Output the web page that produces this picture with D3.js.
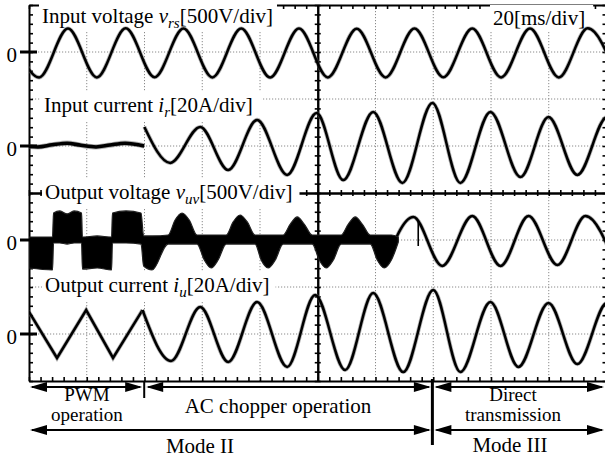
<!DOCTYPE html>
<html>
<head>
<meta charset="utf-8">
<script src="https://cdn.jsdelivr.net/npm/d3@7"></script>
<style>
body { margin: 0; background: #fff; }
svg text { font-family: "Liberation Serif", "Times New Roman", serif; fill: #000; }
.grid line { stroke: #8a8a8a; stroke-width: 1; stroke-dasharray: 1.2, 1.8; }
.ax path, .ax line { stroke: #000; }
.ax path { stroke-width: 2; }
.ax line { stroke-width: 1.6; }
</style>
</head>
<body>
<script>
// time in ms (20 ms/div), voltages in V, currents in A

var inputVoltage = [[-6.5, 250], [3.5, -270], [13.5, 250], [23.5, -270], [33.5, 252], [43.5, -268],
    [53.5, 250], [63.5, -270], [73.5, 250], [83.5, -272], [93.5, 250], [103.5, -270], [113.5, 248],
    [123.5, -270], [133.5, 250], [143.5, -268], [153.5, 250], [163.5, -270], [173.5, 250],
    [183.5, -270], [193.5, 252], [203.5, -270]];

var inputCurrentPwm = [[0, -0.2], [3.1, -0.4], [8.0, 0.5], [13.2, 1.2], [18.0, 0.3], [23.2, -0.4],
    [28.0, 0.4], [33.3, 1.2], [39.9, 0]];
var inputCurrent = [[39.95, 8.1], [48.9, -7.2], [59.3, 8.1], [69.0, -10.2], [79.0, 11.1], [89.4, -12.3],
    [99.6, 14.0], [108.8, -14.5], [119.2, 14.5], [129.3, -15.7], [139.7, 18.3], [149.4, -15.7],
    [159.8, 14.5], [170.2, -13.2], [179.9, 12.3], [189.9, -12.3], [200.2, 12.3], [210, -12.3]];

// [t, upper, lower] of the black PWM / AC chopper band
var outputVoltageBand = [[0, 32, -298], [8.15, 32, -319], [8.5, 287, -32], [10.7, 309, -32],
    [13.2, 277, -43], [15.6, 309, -32], [18.2, 287, -32], [18.5, 32, -309], [23.6, 43, -298],
    [28.6, 32, -319], [28.9, 287, -32], [33.6, 309, -32], [38.8, 287, -43], [39.7, 43, -277],
    [42.6, 43, -319], [48.2, 53, -43], [50.6, 213, -43], [53.0, 287, -43], [55.5, 213, -43],
    [58.2, 53, -43], [60.7, 53, -213], [63.1, 53, -298], [65.5, 53, -213], [68.3, 53, -43],
    [70.7, 192, -43], [73.1, 266, -43], [75.6, 192, -43], [78.3, 53, -43], [80.4, 53, -213],
    [82.8, 53, -298], [85.3, 53, -213], [88.0, 53, -43], [90.5, 170, -43], [92.9, 245, -43],
    [95.3, 170, -43], [98.1, 53, -43], [100.5, 53, -213], [102.9, 53, -298], [105.4, 53, -213],
    [108.1, 53, -43], [110.6, 170, -43], [113.0, 245, -43], [115.4, 170, -43], [118.2, 53, -43],
    [120.6, 53, -213], [123.0, 53, -298], [125.5, 53, -213], [127.9, 32, -21]];
var outputVoltage = [[123.0, -287], [133.1, 245], [143.1, -276], [153.5, 255], [163.3, -276],
    [173.0, 255], [183.0, -266], [192.7, 255], [203.1, -266]];
var outputSpike = [[134.8, 213], [134.8, -64]];

var outputCurrentPwm = [[-0.2, 9.8], [9.7, -10.2], [19.8, 10.2], [29.1, -10.2], [39.3, 10.2]];
var outputCurrent = [[39.3, 10.2], [49.2, -11.5], [59.3, 11.5], [69.0, -11.9], [79.0, 13.6],
    [89.4, -14.0], [99.1, 16.6], [109.5, -15.3], [119.2, 17.4], [129.6, -16.2], [140.0, 18.7],
    [149.4, -16.2], [159.8, 13.6], [169.5, -14.0], [179.9, 13.2], [189.9, -12.8], [200.2, 13.2],
    [210, -12.8]];

var pwmEnd = 39.9;       // ms
var directStart = 139.7; // ms

d3.select(window).on('load', init);

function init() {
    var w = 605, h = 459;
    var pLeft = 29, pRight = 606.5, pTop = 5, pBottom = 381;

    var svg = d3.select('body').append('svg').attr('width', w).attr('height', h);

    var xScale = d3.scaleLinear().domain([0, 200]).range([pLeft, pRight]);
    var yDiv = d3.scaleLinear().domain([-4, 4]).range([pBottom, pTop]);

    function chScale(zeroDiv, perDiv) {
        return d3.scaleLinear().domain([0, perDiv]).range([yDiv(zeroDiv), yDiv(zeroDiv + 1)]);
    }
    var yVin = chScale(3, 500), yIin = chScale(1, 20), yVout = chScale(-1, 500), yIout = chScale(-3, 20);

    // grid
    var grid = svg.append('g').attr('class', 'grid');
    grid.selectAll('.gx').data(d3.range(20, 200, 20).filter(function(d){ return d != 100; }))
        .enter().append('line')
        .attr('x1', function(d){ return xScale(d); }).attr('x2', function(d){ return xScale(d); })
        .attr('y1', pTop).attr('y2', pBottom);
    grid.selectAll('.gy').data([-3, -2, -1, 1, 2, 3])
        .enter().append('line')
        .attr('y1', function(d){ return yDiv(d); }).attr('y2', function(d){ return yDiv(d); })
        .attr('x1', pLeft).attr('x2', pRight);

    // axes with minor ticks (5 per div)
    var xMinor = d3.range(0, 200.01, 4);
    var yMinor = d3.range(-4, 4.01, 0.2);
    function ax(axis, t) {
        svg.append('g').attr('class', 'ax').attr('transform', t).call(axis);
    }
    ax(d3.axisTop(xScale).tickValues(xMinor).tickSize(4).tickSizeOuter(0).tickFormat(''), 'translate(0,' + pBottom + ')');
    ax(d3.axisBottom(xScale).tickValues(xMinor).tickSize(4).tickSizeOuter(0).tickFormat(''), 'translate(0,' + pTop + ')');
    ax(d3.axisRight(yDiv).tickValues(yMinor).tickSize(4).tickSizeOuter(0).tickFormat(''), 'translate(' + pLeft + ',0)');
    ax(d3.axisLeft(yDiv).tickValues(yMinor).tickSize(4).tickSizeOuter(0).tickFormat(''), 'translate(' + pRight + ',0)');
    ax(d3.axisTop(xScale).tickValues(xMinor).tickSize(3).tickSizeOuter(0).tickFormat(''), 'translate(0,' + yDiv(0) + ')');
    ax(d3.axisBottom(xScale).tickValues(xMinor).tickSize(3).tickSizeOuter(0).tickFormat(''), 'translate(0,' + yDiv(0) + ')');
    ax(d3.axisLeft(yDiv).tickValues(yMinor).tickSize(3).tickSizeOuter(0).tickFormat(''), 'translate(' + xScale(100) + ',0)');
    ax(d3.axisRight(yDiv).tickValues(yMinor).tickSize(3).tickSizeOuter(0).tickFormat(''), 'translate(' + xScale(100) + ',0)');

    // labels with white background
    function label(x, y, parts, padR) {
        var g = svg.append('g');
        var t = g.append('text').attr('x', x).attr('y', y).style('font-size', '21px');
        parts.forEach(function(p){
            var s = t.append('tspan').text(p.t);
            if (p.it) s.style('font-style', 'italic');
            if (p.sub) s.style('font-size', '15px').attr('dy', 5);
            if (p.back) s.attr('dy', -5);
        });
        var b = t.node().getBBox();
        g.insert('rect', 'text').attr('x', b.x - 3).attr('y', b.y - 1)
            .attr('width', b.width + 3 + (padR || 4)).attr('height', b.height + 2).attr('fill', '#fff');
    }
    label(42, 23, [{t: 'Input voltage '}, {t: 'v', it: true}, {t: 'rs', it: true, sub: true}, {t: '[500V/div]', back: true}]);
    label(493, 25, [{t: '20[ms/div]'}], 8);
    label(44, 112, [{t: 'Input current '}, {t: 'i', it: true}, {t: 'r', it: true, sub: true}, {t: '[20A/div]', back: true}], 9);
    label(45, 199, [{t: 'Output voltage '}, {t: 'v', it: true}, {t: 'uv', it: true, sub: true}, {t: '[500V/div]', back: true}], 7);
    label(45, 292, [{t: 'Output current '}, {t: 'i', it: true}, {t: 'u', it: true, sub: true}, {t: '[20A/div]', back: true}], 6);

    // traces
    svg.append('clipPath').attr('id', 'plot').append('rect')
        .attr('x', pLeft).attr('y', pTop).attr('width', pRight - pLeft).attr('height', pBottom - pTop);
    var tr = svg.append('g').attr('clip-path', 'url(#plot)');

    function trace(data, y, curve, width) {
        var line = d3.line().x(function(d){ return xScale(d[0]); }).y(function(d){ return y(d[1]); }).curve(curve);
        tr.append('path').attr('d', line(data)).attr('fill', 'none')
            .attr('stroke', '#666').attr('stroke-opacity', 0.5).attr('stroke-width', width + 1.6);
        tr.append('path').attr('d', line(data)).attr('fill', 'none')
            .attr('stroke', '#000').attr('stroke-width', width);
    }
    trace(inputVoltage, yVin, d3.curveMonotoneX, 2.5);
    trace(inputCurrentPwm, yIin, d3.curveMonotoneX, 3.6);
    trace(inputCurrent, yIin, d3.curveMonotoneX, 2.5);
    trace(outputCurrentPwm, yIout, d3.curveLinear, 2.5);
    trace(outputCurrent, yIout, d3.curveMonotoneX, 2.5);
    trace(outputVoltage, yVout, d3.curveMonotoneX, 2.5);
    tr.append('path')
        .attr('d', d3.line().x(function(d){ return xScale(d[0]); }).y(function(d){ return yVout(d[1]); })(outputSpike))
        .attr('stroke', '#000').attr('stroke-width', 1.6);
    tr.append('path')
        .attr('d', d3.area().x(function(d){ return xScale(d[0]); })
            .y0(function(d){ return yVout(d[2]); }).y1(function(d){ return yVout(d[1]); })
            .curve(d3.curveMonotoneX)(outputVoltageBand))
        .attr('fill', '#000').attr('stroke', '#222').attr('stroke-width', 1.2);

    // zero markers
    [yVin, yIin, yVout, yIout].forEach(function(s){
        svg.append('line').attr('x1', 20).attr('x2', 37).attr('y1', s(0)).attr('y2', s(0))
            .attr('stroke', '#000').attr('stroke-width', 3);
        svg.append('text').attr('x', 17).attr('y', s(0) + 10).attr('text-anchor', 'end')
            .style('font-size', '21px').text('0');
    });

    // operation / mode annotations
    function arrow(x1, x2, y) {
        var len = 17, hw = 5;
        svg.append('line').attr('x1', x1 + 2).attr('x2', x2 - 2).attr('y1', y).attr('y2', y)
            .attr('stroke', '#000').attr('stroke-width', 2);
        svg.append('path').attr('d', 'M' + x1 + ',' + y + 'L' + (x1 + len) + ',' + (y - hw) + 'L' + (x1 + len) + ',' + (y + hw) + 'Z');
        svg.append('path').attr('d', 'M' + x2 + ',' + y + 'L' + (x2 - len) + ',' + (y - hw) + 'L' + (x2 - len) + ',' + (y + hw) + 'Z');
    }
    var xPwm = xScale(pwmEnd), xDir = xScale(directStart);
    arrow(pLeft + 1, xPwm - 2, 387);
    arrow(xPwm + 2, xDir - 1.5, 387);
    arrow(xDir + 2, 604, 387);
    arrow(pLeft + 1, xDir - 1.5, 430);
    arrow(xDir + 2, 604, 430);
    svg.append('line').attr('x1', xPwm).attr('x2', xPwm).attr('y1', pBottom).attr('y2', 398)
        .attr('stroke', '#000').attr('stroke-width', 2);
    svg.append('line').attr('x1', xDir).attr('x2', xDir).attr('y1', pBottom - 2).attr('y2', 445)
        .attr('stroke', '#000').attr('stroke-width', 3);

    function note(x, y, s, size) {
        svg.append('text').attr('x', x).attr('y', y).attr('text-anchor', 'middle')
            .style('font-size', (size || 21) + 'px').text(s);
    }
    note(87, 401, 'PWM', 19);
    note(87, 421, 'operation', 19);
    note(278, 413, 'AC chopper operation');
    note(513, 401, 'Direct', 19);
    note(513, 421, 'transmission', 19);
    note(200, 453, 'Mode II');
    note(510, 452, 'Mode III');
}
</script>
</body>
</html>
